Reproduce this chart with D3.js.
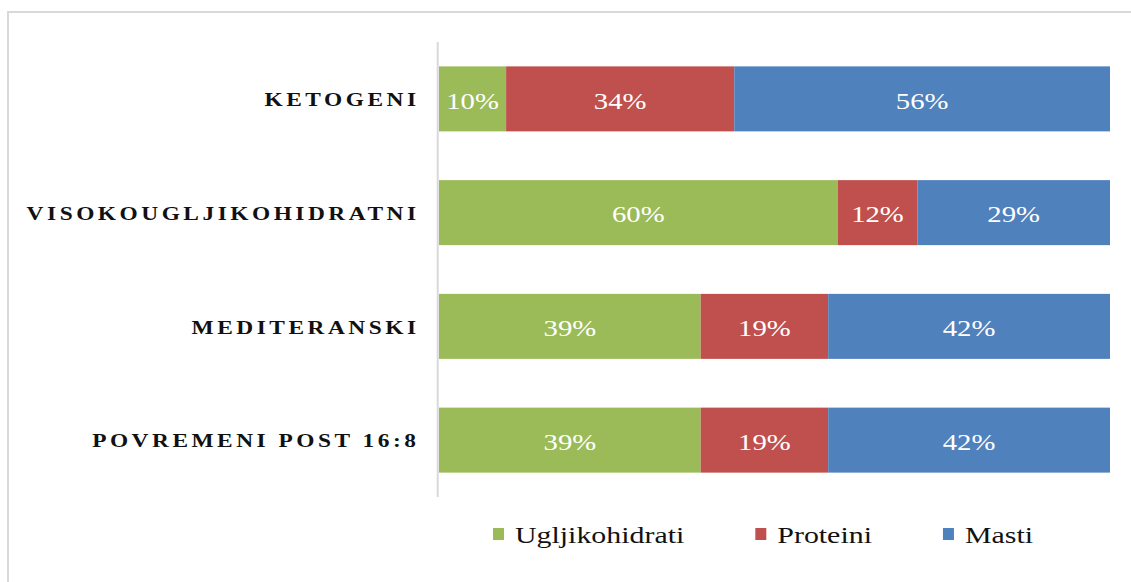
<!DOCTYPE html>
<html lang="hr">
<head>
<meta charset="UTF-8">
<title>Udio makronutrijenata po prehrani</title>
<script src="https://d3js.org/d3.v7.min.js"></script>
<style>
  html, body { margin: 0; padding: 0; background: #fff; }
  svg { display: block; }
  text { font-family: "Liberation Serif", "Times New Roman", serif; }
</style>
</head>
<body>
<svg id="chart" width="1131" height="582"></svg>
<script>
// podaci
const diets = ["KETOGENI", "VISOKOUGLJIKOHIDRATNI", "MEDITERANSKI", "POVREMENI POST 16:8"];
const nutrients = ["Ugljikohidrati", "Proteini", "Masti"];
const carbs = [10, 60, 39, 39];
const proteins = [34, 12, 19, 19];
const fats = [56, 29, 42, 42];
const colors = ["#9BBB59", "#C0504D", "#4F81BD"];

const W = 1131, H = 582;
const margin = { top: 42, right: 21, bottom: 85, left: 439 };
const stretch = 1.3; // tekst u originalu je vodoravno razvučen

const svg = d3.select("#chart");

// okvir
svg.append("rect")
  .attr("x", 8).attr("y", 12)
  .attr("width", W).attr("height", H)
  .attr("fill", "none")
  .attr("stroke", "#d9d9d9")
  .attr("stroke-width", 2);

const rows = diets.map((d, i) => {
  const vals = [carbs[i], proteins[i], fats[i]];
  const total = d3.sum(vals);
  const row = { diet: d };
  nutrients.forEach((n, j) => { row[n] = vals[j] / total; row[n + "_lbl"] = vals[j]; });
  return row;
});

const series = d3.stack().keys(nutrients)(rows);

const x = d3.scaleLinear()
  .domain([0, 1])
  .range([margin.left, W - margin.right]);

const y = d3.scaleBand()
  .domain(diets)
  .range([margin.top, H - margin.bottom])
  .paddingInner(0.4286)
  .paddingOuter(0.2143);

// okomita os
svg.append("line")
  .attr("x1", margin.left - 1.3).attr("x2", margin.left - 1.3)
  .attr("y1", margin.top).attr("y2", H - margin.bottom)
  .attr("stroke", "#d9d9d9")
  .attr("stroke-width", 2);

const color = d3.scaleOrdinal().domain(nutrients).range(colors);

const layer = svg.append("g").selectAll("g")
  .data(series)
  .join("g")
  .attr("fill", s => color(s.key));

layer.selectAll("rect")
  .data(s => s.map(d => Object.assign(d, { key: s.key })))
  .join("rect")
  .attr("x", d => x(d[0]))
  .attr("y", d => y(d.data.diet))
  .attr("width", d => x(d[1]) - x(d[0]))
  .attr("height", y.bandwidth());

// oznake vrijednosti
layer.selectAll("g.lbl")
  .data(s => s)
  .join("g")
  .attr("class", "lbl")
  .attr("transform", d => `translate(${(x(d[0]) + x(d[1])) / 2},${y(d.data.diet) + y.bandwidth() / 2 + 9.8}) scale(1.25,1)`)
  .append("text")
  .attr("text-anchor", "middle")
  .attr("fill", "#fff")
  .style("font-size", "23px")
  .text(d => d.data[d.key + "_lbl"] + "%");

// nazivi kategorija
const ls = 2.7;
svg.append("g").selectAll("g")
  .data(diets)
  .join("g")
  .attr("transform", d => `translate(${margin.left - 23 + ls * stretch},${y(d) + y.bandwidth() / 2 + 7.2}) scale(${stretch},1)`)
  .append("text")
  .attr("text-anchor", "end")
  .attr("fill", "#111")
  .style("font-size", "18px")
  .style("font-weight", "bold")
  .style("letter-spacing", ls + "px")
  .text(d => d);

// legenda
const legend = svg.append("g");
let lx = 493;
const ly = 528;
nutrients.forEach(n => {
  legend.append("rect")
    .attr("x", lx).attr("y", ly)
    .attr("width", 11).attr("height", 12)
    .attr("fill", color(n));
  const g = legend.append("g")
    .attr("transform", `translate(${lx + 22},${ly + 15}) scale(${stretch},1)`);
  const t = g.append("text")
    .attr("fill", "#111")
    .style("font-size", "23px")
    .text(n);
  const w = t.node().getComputedTextLength() * stretch;
  lx = lx + 22 + w + 71;
});
</script>
</body>
</html>
